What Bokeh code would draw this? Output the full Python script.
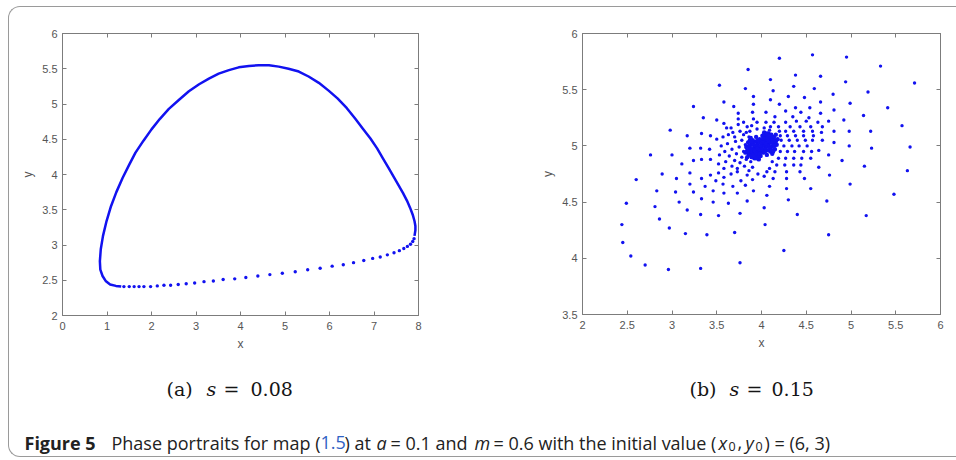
from bokeh.plotting import figure
from bokeh.models import Range1d, FixedTicker, LinearAxis, Label, InlineStyleSheet
from bokeh.layouts import row, column
from bokeh.embed import file_html
from bokeh.resources import INLINE

# ---------------- data: panel (a) s = 0.08 ----------------
# densely packed part of the closed invariant curve (points merge into a band)
curve_x = [7.91, 7.93, 7.93, 7.91, 7.87, 7.81, 7.74, 7.65, 7.55, 7.44, 7.33, 7.20, 7.07,
           6.92, 6.75, 6.58, 6.39, 6.18, 5.98, 5.76, 5.53, 5.31, 5.08, 4.86, 4.64, 4.41,
           4.19, 3.96, 3.74, 3.51, 3.29, 3.07, 2.84, 2.62, 2.39, 2.19, 2.00, 1.82, 1.64,
           1.50, 1.35, 1.21, 1.09, 0.99, 0.91, 0.86, 0.84, 0.85, 0.90, 0.97, 1.07, 1.20, 1.32]
curve_y = [3.13, 3.21, 3.27, 3.34, 3.43, 3.53, 3.63, 3.74, 3.85, 3.97, 4.09, 4.23, 4.37,
           4.51, 4.65, 4.79, 4.94, 5.08, 5.19, 5.30, 5.39, 5.46, 5.50, 5.53, 5.55, 5.55,
           5.54, 5.52, 5.48, 5.43, 5.36, 5.28, 5.18, 5.06, 4.93, 4.79, 4.64, 4.48, 4.31,
           4.14, 3.95, 3.75, 3.55, 3.34, 3.13, 2.94, 2.77, 2.65, 2.56, 2.49, 2.44, 2.42, 2.41]
# sparse iterates along the lower branch
sparse_x = [1.38, 1.50, 1.61, 1.72, 1.83, 1.98, 2.13, 2.28, 2.43, 2.60, 2.78, 2.97, 3.18,
            3.39, 3.61, 3.87, 4.12, 4.39, 4.66, 4.94, 5.23, 5.51, 5.79, 6.06, 6.31, 6.54,
            6.77, 6.97, 7.14, 7.30, 7.45, 7.57, 7.67, 7.75, 7.82, 7.87, 7.90]
sparse_y = [2.41, 2.41, 2.41, 2.41, 2.41, 2.41, 2.42, 2.43, 2.43, 2.44, 2.45, 2.46, 2.48,
            2.49, 2.51, 2.52, 2.54, 2.56, 2.58, 2.60, 2.62, 2.65, 2.67, 2.70, 2.72, 2.75,
            2.78, 2.81, 2.83, 2.86, 2.89, 2.92, 2.95, 2.98, 3.01, 3.05, 3.09]

# ---------------- data: panel (b) s = 0.15 ----------------
upper_right = [(4.20, 5.78), (4.57, 5.81), (4.95, 5.79), (5.33, 5.71), (5.71, 5.56),
               (4.38, 5.63), (4.66, 5.62), (4.10, 5.59), (4.94, 5.57), (4.13, 5.49),
               (4.59, 5.51), (4.36, 5.53), (5.19, 5.48), (4.80, 5.46), (4.30, 5.44),
               (4.48, 5.43), (4.10, 5.41), (4.66, 5.39), (4.99, 5.38), (4.20, 5.37),
               (5.41, 5.34), (4.38, 5.34), (4.54, 5.34), (4.81, 5.32), (4.05, 5.30),
               (4.27, 5.31), (4.44, 5.30), (4.66, 5.29), (5.14, 5.27), (4.92, 5.23),
               (4.75, 5.22), (4.35, 5.26), (4.53, 5.25), (4.15, 5.26), (5.57, 5.18),
               (4.81, 5.13), (4.98, 5.13), (5.22, 5.13), (4.68, 5.05), (4.81, 5.03),
               (4.98, 5.00), (5.23, 4.98), (5.66, 4.99), (4.64, 4.96), (4.75, 4.92),
               (4.90, 4.87), (5.15, 4.82), (5.63, 4.78)]
inner_right = [(4.05, 5.21), (4.14, 5.21), (4.27, 5.21), (4.39, 5.22), (4.50, 5.22), (4.63, 5.21),
               (4.10, 5.17), (4.19, 5.17), (4.32, 5.17), (4.43, 5.17), (4.55, 5.17), (4.68, 5.17),
               (4.20, 5.13), (4.27, 5.13), (4.36, 5.13), (4.47, 5.13), (4.57, 5.13), (4.67, 5.12),
               (4.21, 5.09), (4.29, 5.09), (4.38, 5.09), (4.47, 5.09), (4.58, 5.09),
               (4.22, 5.05), (4.31, 5.05), (4.40, 5.05), (4.49, 5.05), (4.57, 5.05),
               (4.25, 5.00), (4.34, 5.00), (4.42, 5.00), (4.51, 5.00),
               (4.21, 4.95), (4.29, 4.95), (4.37, 4.95), (4.47, 4.95), (4.56, 4.95),
               (4.19, 4.89), (4.27, 4.89), (4.36, 4.89), (4.45, 4.89), (4.55, 4.89),
               (4.17, 4.83), (4.26, 4.83), (4.36, 4.83), (4.44, 4.83), (4.64, 4.81),
               (4.43, 4.77), (4.12, 4.86), (4.09, 4.80), (4.03, 5.16), (4.09, 5.14)]
lower_right = [(4.06, 4.77), (4.15, 4.77), (4.28, 4.77), (4.76, 4.74), (4.03, 4.73),
               (4.13, 4.71), (4.28, 4.71), (4.48, 4.71), (4.09, 4.64), (4.28, 4.62),
               (4.55, 4.62), (4.99, 4.66), (4.06, 4.56), (4.30, 4.52), (4.73, 4.51),
               (5.48, 4.57), (4.03, 4.45), (4.40, 4.39), (5.17, 4.38), (4.04, 4.30),
               (4.75, 4.21), (4.25, 4.07)]
lower_left = [(2.89, 4.75), (2.60, 4.70), (3.05, 4.71), (3.20, 4.76), (3.33, 4.71), (3.43, 4.74),
              (3.52, 4.76), (3.58, 4.72), (3.66, 4.75), (3.73, 4.77), (3.77, 4.69), (3.84, 4.74),
              (3.90, 4.70), (3.96, 4.75), (3.20, 4.66), (3.37, 4.64), (3.49, 4.69), (3.57, 4.66),
              (3.68, 4.64), (3.82, 4.65), (2.83, 4.60), (3.04, 4.59), (3.24, 4.59), (3.46, 4.60),
              (3.58, 4.58), (3.73, 4.58), (3.91, 4.60), (2.49, 4.49), (3.08, 4.50), (3.33, 4.53),
              (3.46, 4.50), (3.63, 4.49), (3.84, 4.51), (2.81, 4.46), (3.17, 4.43), (3.32, 4.39),
              (3.52, 4.38), (3.76, 4.40), (2.44, 4.30), (2.86, 4.35), (2.97, 4.27), (3.15, 4.22),
              (3.39, 4.21), (3.70, 4.23), (2.45, 4.14), (2.54, 4.02), (2.70, 3.94), (2.96, 3.90),
              (3.32, 3.91), (3.76, 3.96)]
upper_left = [(3.85, 5.68), (3.53, 5.54), (3.82, 5.51), (3.91, 5.44), (3.58, 5.39), (3.69, 5.35),
              (3.91, 5.37), (3.24, 5.35), (3.74, 5.29), (3.90, 5.30), (3.35, 5.25), (3.50, 5.23),
              (3.74, 5.24), (3.91, 5.24), (3.58, 5.20), (2.98, 5.14), (3.61, 5.16), (3.74, 5.19),
              (3.33, 5.11), (3.43, 5.09), (3.17, 5.09), (3.50, 5.06), (3.20, 4.98), (3.32, 4.98),
              (3.42, 4.97), (2.76, 4.92), (3.00, 4.92), (3.11, 4.84), (3.24, 4.87), (3.33, 4.88),
              (3.43, 4.88)]
inner_left = [(3.84, 5.17), (3.83, 5.12), (3.86, 5.08), (3.80, 5.10), (3.76, 5.13), (3.68, 5.12),
              (3.63, 5.10), (3.57, 5.08), (3.78, 5.05), (3.71, 5.04), (3.62, 5.02), (3.55, 5.00),
              (3.82, 5.01), (3.75, 4.99), (3.67, 4.97), (3.59, 4.95), (3.80, 4.95), (3.72, 4.93),
              (3.64, 4.91), (3.53, 4.92), (3.85, 4.93), (3.78, 4.90), (3.70, 4.87), (3.60, 4.86),
              (3.52, 4.84), (3.83, 4.88), (3.76, 4.85), (3.67, 4.82), (3.58, 4.80), (3.88, 4.86),
              (3.81, 4.82), (3.73, 4.80), (3.90, 4.81), (3.86, 4.78), (3.66, 5.16), (3.70, 5.08),
              (3.80, 5.21), (3.87, 5.13), (3.89, 5.18), (3.95, 5.21), (3.95, 5.15)]
# dense cluster of late iterates around the fixed point (4, 5)
core = [(4.00, 5.00), (4.02, 5.01), (3.98, 4.99), (4.04, 5.02), (3.96, 4.98), (4.05, 4.99),
        (3.95, 5.01), (4.03, 4.97), (3.97, 5.03), (4.06, 5.04), (3.94, 4.96), (4.08, 5.01),
        (3.92, 4.99), (4.07, 4.96), (3.93, 5.04), (4.01, 5.05), (3.99, 4.95), (4.10, 5.03),
        (3.90, 4.97), (4.09, 5.06), (3.91, 4.94), (4.04, 5.07), (3.96, 4.93), (4.11, 4.99),
        (3.89, 5.01), (4.12, 5.06), (3.88, 4.94), (4.06, 5.09), (3.94, 4.91), (4.13, 5.02),
        (3.87, 4.98), (4.10, 4.95), (3.90, 5.05), (4.01, 5.09), (3.99, 4.91), (4.14, 5.08),
        (3.86, 4.92), (4.08, 5.11), (3.92, 4.89), (4.15, 4.97), (3.85, 5.03), (4.12, 4.93),
        (3.88, 5.07), (4.03, 5.12), (3.97, 4.88), (4.16, 5.04), (3.84, 4.96), (4.01, 5.00),
        (3.99, 5.00), (4.00, 5.03), (4.00, 4.97), (4.02, 4.94), (3.98, 5.06), (4.07, 5.00),
        (3.93, 5.00), (4.05, 5.05), (3.95, 4.95), (4.13, 4.95), (3.87, 5.05), (4.17, 5.01),
        (3.83, 4.99), (4.11, 5.10), (3.89, 4.90), (4.06, 4.92), (3.94, 5.08),
        (4.03, 5.03), (3.97, 4.97), (4.05, 5.02), (3.95, 4.98), (4.02, 5.07), (3.98, 4.93),
        (4.08, 5.04), (3.92, 4.96), (4.09, 4.98), (3.91, 5.02), (4.04, 4.95), (3.96, 5.05),
        (4.12, 5.03), (3.88, 4.97), (4.07, 5.07), (3.93, 4.93), (4.14, 5.00), (3.86, 5.00),
        (4.10, 5.08), (3.90, 4.92), (4.03, 5.10), (3.97, 4.90), (4.15, 5.05), (3.85, 4.95),
        (4.11, 4.96), (3.89, 5.04), (4.06, 5.11), (3.94, 4.89), (4.16, 5.10), (3.84, 4.90),
        (4.18, 5.06), (3.82, 4.94)]

# ---------------- ticks ----------------
a_xticks = [0, 1, 2, 3, 4, 5, 6, 7, 8]
a_xlabels = ["0", "1", "2", "3", "4", "5", "6", "7", "8"]
a_yticks = [2, 2.5, 3, 3.5, 4, 4.5, 5, 5.5, 6]
a_ylabels = ["2", "2.5", "3", "3.5", "4", "4.5", "5", "5.5", "6"]
b_xticks = [2, 2.5, 3, 3.5, 4, 4.5, 5, 5.5, 6]
b_xlabels = ["2", "2.5", "3", "3.5", "4", "4.5", "5", "5.5", "6"]
b_yticks = [3.5, 4, 4.5, 5, 5.5, 6]
b_ylabels = ["3.5", "4", "4.5", "5", "5.5", "6"]

BLUE = "#1212f0"
AXC = "#7c7c7c"
TXT = "#555555"


def style(p, xt, xl, yt, yl):
    p.grid.visible = False
    p.outline_line_color = AXC
    p.outline_line_width = 1
    p.xaxis.ticker = FixedTicker(ticks=xt)
    p.yaxis.ticker = FixedTicker(ticks=yt)
    p.xaxis.major_label_overrides = dict(zip(xt, xl))
    p.yaxis.major_label_overrides = dict(zip(yt, yl))
    for ax in (p.xaxis[0], p.yaxis[0]):
        ax.axis_line_color = AXC
        ax.major_tick_line_color = AXC
        ax.major_tick_in = 4
        ax.major_tick_out = 0
        ax.minor_tick_line_color = None
        ax.major_label_text_font = "Liberation Sans"
        ax.major_label_text_font_size = "11px"
        ax.major_label_text_color = TXT
        ax.axis_label_text_font = "Liberation Sans"
        ax.axis_label_text_font_size = "12px"
        ax.axis_label_text_font_style = "normal"
        ax.axis_label_text_color = TXT
    p.xaxis.axis_label = "x"
    p.yaxis.axis_label = "y"
    p.xaxis.major_label_standoff = 6
    p.xaxis.axis_label_standoff = 4
    p.yaxis.major_label_standoff = 5
    p.yaxis.axis_label_standoff = 4
    for side, t in (("above", xt), ("right", yt)):
        ax = LinearAxis(ticker=FixedTicker(ticks=t))
        ax.axis_line_color = AXC
        ax.major_tick_line_color = AXC
        ax.major_tick_in = 4
        ax.major_tick_out = 0
        ax.minor_tick_line_color = None
        ax.major_label_text_font_size = "0px"
        ax.major_label_text_color = None
        ax.major_label_standoff = 0
        p.add_layout(ax, side)


def label(p, x, y, text, font="DejaVu Serif", size="19px", style_="normal", color="#151515"):
    p.add_layout(Label(x=x, y=y, x_units="screen", y_units="screen", text=text,
                       text_font=font, text_font_size=size, text_font_style=style_,
                       text_color=color, text_align="left", text_baseline="alphabetic"))


# ---------------- panel (a) ----------------
p1 = figure(frame_width=356, frame_height=282, x_range=Range1d(0, 8), y_range=Range1d(2, 6),
            min_border_left=62, min_border_right=62, min_border_top=32, min_border_bottom=46,
            output_backend="svg", toolbar_location=None)
style(p1, a_xticks, a_xlabels, a_yticks, a_ylabels)
p1.line(curve_x, curve_y, line_width=2.5, color=BLUE)
p1.scatter(sparse_x, sparse_y, size=3.4, color=BLUE, line_color=None)

# ---------------- panel (b) ----------------
pts = upper_right + inner_right + lower_right + lower_left + upper_left + inner_left
bx = [q[0] for q in pts]
by = [q[1] for q in pts]
cx = [q[0] for q in core]
cy_ = [q[1] for q in core]
p2 = figure(frame_width=358, frame_height=281, x_range=Range1d(2, 6), y_range=Range1d(3.5, 6),
            min_border_left=102, min_border_right=16, min_border_top=33, min_border_bottom=46,
            output_backend="svg", toolbar_location=None)
style(p2, b_xticks, b_xlabels, b_yticks, b_ylabels)
p2.scatter(bx, by, size=3.4, color=BLUE, line_color=None)
p2.scatter(cx, cy_, size=4.4, color=BLUE, line_color=None)

# ---------------- caption strip (sub-captions + figure caption) ----------------
p3 = figure(width=956, height=100, x_range=Range1d(0, 956), y_range=Range1d(0, 100),
            min_border=0, x_axis_location=None, y_axis_location=None,
            output_backend="svg", toolbar_location=None)
p3.grid.visible = False
p3.outline_line_color = None

sy = 72
label(p3, 166, sy, "(a)")
label(p3, 206, sy, "s", style_="italic")
label(p3, 223, sy, "=")
label(p3, 250, sy, "0.08")
label(p3, 689, sy, "(b)")
label(p3, 729, sy, "s", style_="italic")
label(p3, 746, sy, "=")
label(p3, 771, sy, "0.15")

CF = "Open Sans"
CS = "18px"
CC = "#222222"
cy = 18
label(p3, 24, cy, "Figure 5", CF, CS, "bold", CC)
label(p3, 111, cy, "Phase portraits for map (", CF, CS, "normal", CC)
label(p3, 320, cy, "1.5", CF, CS, "normal", "#2f62c4")
label(p3, 344, cy, ") at", CF, CS, "normal", CC)
label(p3, 376, cy, "a", CF, CS, "italic", CC)
label(p3, 390, cy, "= 0.1 and", CF, CS, "normal", CC)
label(p3, 474, cy, "m", CF, CS, "italic", CC)
label(p3, 493, cy, "= 0.6 with the initial value (", CF, CS, "normal", CC)
label(p3, 718, cy, "x", CF, CS, "italic", CC)
label(p3, 728, cy - 4, "0", CF, "12.5px", "normal", CC)
label(p3, 737, cy, ",", CF, CS, "normal", CC)
label(p3, 745, cy, "y", CF, CS, "italic", CC)
label(p3, 755, cy - 4, "0", CF, "12.5px", "normal", CC)
label(p3, 764, cy, ") = (6, 3)", CF, CS, "normal", CC)

frame_css = InlineStyleSheet(css="""
:host { position: relative; }
:host::after {
  content: ""; position: absolute; left: 8px; top: 6px;
  width: calc(100% - 8px); height: 451px; box-sizing: border-box;
  border: 1.5px solid #9a9a9a; border-right: none;
  border-radius: 12px 0 0 12px; pointer-events: none; z-index: 5;
}
""")

layout = column(row(p1, p2), p3, stylesheets=[frame_css])
open("out.html", "w").write(file_html(layout, INLINE))
